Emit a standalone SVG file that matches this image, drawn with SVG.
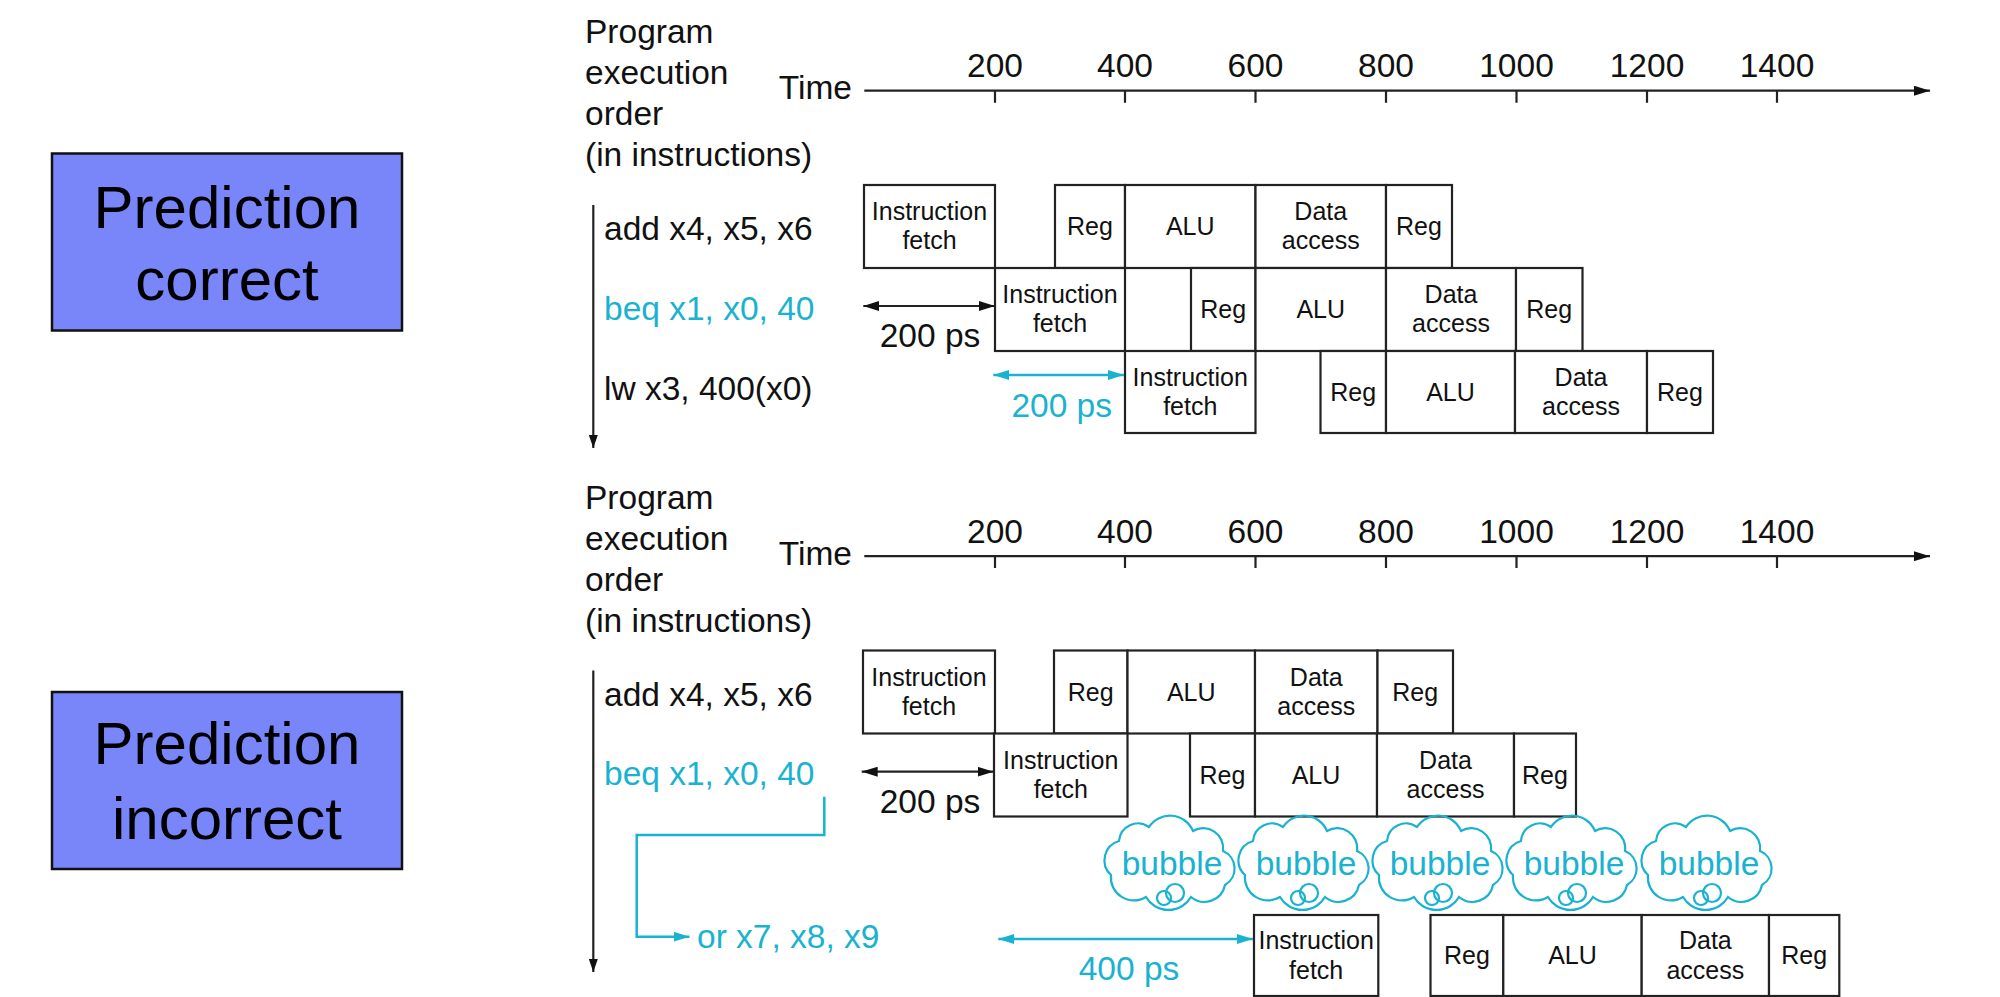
<svg xmlns="http://www.w3.org/2000/svg" xmlns:xlink="http://www.w3.org/1999/xlink" width="2000" height="997" viewBox="0 0 2000 997">
<style>
text{font-family:"Liberation Sans",Arial,Helvetica,sans-serif}
.bx{fill:#fff;stroke:#222;stroke-width:2.2}
.bt{font-size:25px;fill:#111;text-anchor:middle}
.lb{font-size:33.5px;fill:#111}
.tk{font-size:33.5px;fill:#111;text-anchor:middle}
.cy{fill:#19b2d0}
.ax{stroke:#222;stroke-width:2.2;fill:none}
.cl{stroke:#19b2d0;stroke-width:2.5;fill:none}
.pred{fill:#7886f9;stroke:#111;stroke-width:2.5}
.pt{font-size:60px;fill:#000;text-anchor:middle}
.cloud{fill:none;stroke:#19b2d0;stroke-width:2.2}
.bub{font-size:33.5px;fill:#19b2d0;text-anchor:middle}
</style>
<defs>
<marker id="ab" viewBox="0 0 16 10" refX="16" refY="5" markerWidth="16" markerHeight="10" markerUnits="userSpaceOnUse" orient="auto-start-reverse"><path d="M0,0 L16,5 L0,10 Z" fill="#111"/></marker>
<marker id="ac" viewBox="0 0 16 10" refX="16" refY="5" markerWidth="16" markerHeight="10" markerUnits="userSpaceOnUse" orient="auto-start-reverse"><path d="M0,0 L16,5 L0,10 Z" fill="#19b2d0"/></marker>
<marker id="as" viewBox="0 0 13 9" refX="13" refY="4.5" markerWidth="13" markerHeight="9" markerUnits="userSpaceOnUse" orient="auto"><path d="M0,0 L13,4.5 L0,9 Z" fill="#111"/></marker>
<g id="cloud">
<path class="cloud" d="M-60,12 A20,20 0 0 1 -52,-22 A19,19 0 0 1 -22,-36 A25,25 0 0 1 22,-32 A20,20 0 0 1 52,-12 A19,19 0 0 1 54,22 A21,21 0 0 1 20,34 A26,26 0 0 1 -25,34 A23,23 0 0 1 -60,12 Z"/>
<circle class="cloud" cx="-7" cy="35" r="7"/>
<circle class="cloud" cx="4" cy="30" r="9"/>
</g>
</defs>

<!-- Prediction boxes -->
<g id="pred-correct">
<rect class="pred" x="52" y="153.5" width="350" height="177"/>
<text class="pt" x="227" y="227.5">Prediction</text>
<text class="pt" x="227" y="300">correct</text>
</g>
<g id="pred-incorrect">
<rect class="pred" x="52" y="692" width="350" height="177"/>
<text class="pt" x="227" y="764">Prediction</text>
<text class="pt" x="227" y="838.5">incorrect</text>
</g>

<!-- Top section labels -->
<g id="top-labels">
<text class="lb" x="585" y="43">Program</text>
<text class="lb" x="585" y="84">execution</text>
<text class="lb" x="585" y="125">order</text>
<text class="lb" x="585" y="166">(in instructions)</text>
<text class="lb" x="852" y="99" text-anchor="end">Time</text>
<text class="tk" x="995" y="77.3">200</text>
<text class="tk" x="1125" y="77.3">400</text>
<text class="tk" x="1255.5" y="77.3">600</text>
<text class="tk" x="1386" y="77.3">800</text>
<text class="tk" x="1516.5" y="77.3">1000</text>
<text class="tk" x="1647" y="77.3">1200</text>
<text class="tk" x="1777" y="77.3">1400</text>
<text class="lb" x="604" y="240">add x4, x5, x6</text>
<text class="lb cy" x="604" y="319.5">beq x1, x0, 40</text>
<text class="lb" x="604" y="400">lw x3, 400(x0)</text>
<text class="lb" x="930" y="346.7" text-anchor="middle">200 ps</text>
<text class="lb cy" x="1061.7" y="416.7" text-anchor="middle">200 ps</text>
</g>

<!-- Bottom section labels -->
<g id="bottom-labels">
<text class="lb" x="585" y="508.5">Program</text>
<text class="lb" x="585" y="549.5">execution</text>
<text class="lb" x="585" y="590.5">order</text>
<text class="lb" x="585" y="631.5">(in instructions)</text>
<text class="lb" x="852" y="564.5" text-anchor="end">Time</text>
<text class="tk" x="995" y="542.8">200</text>
<text class="tk" x="1125" y="542.8">400</text>
<text class="tk" x="1255.5" y="542.8">600</text>
<text class="tk" x="1386" y="542.8">800</text>
<text class="tk" x="1516.5" y="542.8">1000</text>
<text class="tk" x="1647" y="542.8">1200</text>
<text class="tk" x="1777" y="542.8">1400</text>
<text class="lb" x="604" y="705.5">add x4, x5, x6</text>
<text class="lb cy" x="604" y="785">beq x1, x0, 40</text>
<text class="lb cy" x="697" y="948.3">or x7, x8, x9</text>
<text class="lb" x="930" y="813.3" text-anchor="middle">200 ps</text>
<text class="lb cy" x="1129" y="980" text-anchor="middle">400 ps</text>
</g>

<!-- Top pipeline boxes -->
<g id="t1-if"><rect class="bx" x="864" y="185" width="131" height="83"/><text class="bt" x="929.5" y="220">Instruction</text><text class="bt" x="929.5" y="249">fetch</text></g>
<g id="t1-reg1"><rect class="bx" x="1055" y="185" width="70" height="83"/><text class="bt" x="1090" y="235">Reg</text></g>
<g id="t1-alu"><rect class="bx" x="1125" y="185" width="130.5" height="83"/><text class="bt" x="1190.25" y="235">ALU</text></g>
<g id="t1-data"><rect class="bx" x="1255.5" y="185" width="130.5" height="83"/><text class="bt" x="1320.75" y="220">Data</text><text class="bt" x="1320.75" y="249">access</text></g>
<g id="t1-reg2"><rect class="bx" x="1386" y="185" width="66" height="83"/><text class="bt" x="1419" y="235">Reg</text></g>

<g id="t2-if"><rect class="bx" x="995" y="268" width="130" height="83"/><text class="bt" x="1060" y="303">Instruction</text><text class="bt" x="1060" y="332">fetch</text></g>
<g id="t2-reg1"><rect class="bx" x="1191" y="268" width="64.5" height="83"/><text class="bt" x="1223.25" y="318">Reg</text></g>
<g id="t2-alu"><rect class="bx" x="1255.5" y="268" width="130.5" height="83"/><text class="bt" x="1320.75" y="318">ALU</text></g>
<g id="t2-data"><rect class="bx" x="1386" y="268" width="130" height="83"/><text class="bt" x="1451" y="303">Data</text><text class="bt" x="1451" y="332">access</text></g>
<g id="t2-reg2"><rect class="bx" x="1516" y="268" width="66.5" height="83"/><text class="bt" x="1549.25" y="318">Reg</text></g>

<g id="t3-if"><rect class="bx" x="1125" y="351" width="130.5" height="82"/><text class="bt" x="1190.25" y="386">Instruction</text><text class="bt" x="1190.25" y="415">fetch</text></g>
<g id="t3-reg1"><rect class="bx" x="1320.5" y="351" width="65.5" height="82"/><text class="bt" x="1353.25" y="401">Reg</text></g>
<g id="t3-alu"><rect class="bx" x="1386" y="351" width="129" height="82"/><text class="bt" x="1450.5" y="401">ALU</text></g>
<g id="t3-data"><rect class="bx" x="1515" y="351" width="132" height="82"/><text class="bt" x="1581" y="386">Data</text><text class="bt" x="1581" y="415">access</text></g>
<g id="t3-reg2"><rect class="bx" x="1647" y="351" width="66" height="82"/><text class="bt" x="1680" y="401">Reg</text></g>

<!-- Bottom pipeline boxes -->
<g id="b1-if"><rect class="bx" x="863" y="650.5" width="132" height="83"/><text class="bt" x="929" y="685.5">Instruction</text><text class="bt" x="929" y="714.5">fetch</text></g>
<g id="b1-reg1"><rect class="bx" x="1054" y="650.5" width="73.5" height="83"/><text class="bt" x="1090.75" y="700.5">Reg</text></g>
<g id="b1-alu"><rect class="bx" x="1127.5" y="650.5" width="127.5" height="83"/><text class="bt" x="1191.25" y="700.5">ALU</text></g>
<g id="b1-data"><rect class="bx" x="1255" y="650.5" width="122.5" height="83"/><text class="bt" x="1316.25" y="685.5">Data</text><text class="bt" x="1316.25" y="714.5">access</text></g>
<g id="b1-reg2"><rect class="bx" x="1377.5" y="650.5" width="75.5" height="83"/><text class="bt" x="1415.25" y="700.5">Reg</text></g>

<g id="b2-if"><rect class="bx" x="994" y="733.5" width="133.5" height="83"/><text class="bt" x="1060.75" y="768.5">Instruction</text><text class="bt" x="1060.75" y="797.5">fetch</text></g>
<g id="b2-reg1"><rect class="bx" x="1190" y="733.5" width="65" height="83"/><text class="bt" x="1222.5" y="783.5">Reg</text></g>
<g id="b2-alu"><rect class="bx" x="1255" y="733.5" width="122" height="83"/><text class="bt" x="1316" y="783.5">ALU</text></g>
<g id="b2-data"><rect class="bx" x="1377" y="733.5" width="137" height="83"/><text class="bt" x="1445.5" y="768.5">Data</text><text class="bt" x="1445.5" y="797.5">access</text></g>
<g id="b2-reg2"><rect class="bx" x="1514" y="733.5" width="62" height="83"/><text class="bt" x="1545" y="783.5">Reg</text></g>

<g id="b3-if"><rect class="bx" x="1254" y="915" width="124.3" height="81"/><text class="bt" x="1316.15" y="949">Instruction</text><text class="bt" x="1316.15" y="978.5">fetch</text></g>
<g id="b3-reg1"><rect class="bx" x="1430.5" y="915" width="72.8" height="81"/><text class="bt" x="1466.9" y="963.5">Reg</text></g>
<g id="b3-alu"><rect class="bx" x="1503.3" y="915" width="138.4" height="81"/><text class="bt" x="1572.5" y="963.5">ALU</text></g>
<g id="b3-data"><rect class="bx" x="1641.7" y="915" width="127.3" height="81"/><text class="bt" x="1705.35" y="949">Data</text><text class="bt" x="1705.35" y="978.5">access</text></g>
<g id="b3-reg2"><rect class="bx" x="1769" y="915" width="70.3" height="81"/><text class="bt" x="1804.15" y="963.5">Reg</text></g>

<!-- Bubbles -->
<g id="bubble1"><use xlink:href="#cloud" href="#cloud" x="1171" y="863"/><text class="bub" x="1172" y="875">bubble</text></g>
<g id="bubble2"><use xlink:href="#cloud" href="#cloud" x="1305" y="863"/><text class="bub" x="1306" y="875">bubble</text></g>
<g id="bubble3"><use xlink:href="#cloud" href="#cloud" x="1439" y="863"/><text class="bub" x="1440" y="875">bubble</text></g>
<g id="bubble4"><use xlink:href="#cloud" href="#cloud" x="1573" y="863"/><text class="bub" x="1574" y="875">bubble</text></g>
<g id="bubble5"><use xlink:href="#cloud" href="#cloud" x="1708" y="863"/><text class="bub" x="1709" y="875">bubble</text></g>

<!-- Connectors -->
<g id="connectors">
<path class="ax" d="M864.3,90.7 H1930" marker-end="url(#ab)"/>
<path class="ax" d="M995,90.7 V102.7 M1125,90.7 V102.7 M1255.5,90.7 V102.7 M1386,90.7 V102.7 M1516.5,90.7 V102.7 M1647,90.7 V102.7 M1777,90.7 V102.7"/>
<path class="ax" d="M864.3,556.2 H1930" marker-end="url(#ab)"/>
<path class="ax" d="M995,556.2 V568 M1125,556.2 V568 M1255.5,556.2 V568 M1386,556.2 V568 M1516.5,556.2 V568 M1647,556.2 V568 M1777,556.2 V568"/>
<path class="ax" d="M593.3,205 V448" marker-end="url(#as)"/>
<path class="ax" d="M593.3,670.5 V972" marker-end="url(#as)"/>
<path class="ax" d="M863.3,306 H995" marker-start="url(#ab)" marker-end="url(#ab)"/>
<path class="cl" d="M993.3,375 H1124" marker-start="url(#ac)" marker-end="url(#ac)"/>
<path class="ax" d="M861.7,771.7 H993.5" marker-start="url(#ab)" marker-end="url(#ab)"/>
<path class="cl" d="M998.3,939 H1253" marker-start="url(#ac)" marker-end="url(#ac)"/>
<path class="cl" d="M824.3,796.7 V835 H636.7 V936.7 H689.5" marker-end="url(#ac)"/>
</g>
</svg>
